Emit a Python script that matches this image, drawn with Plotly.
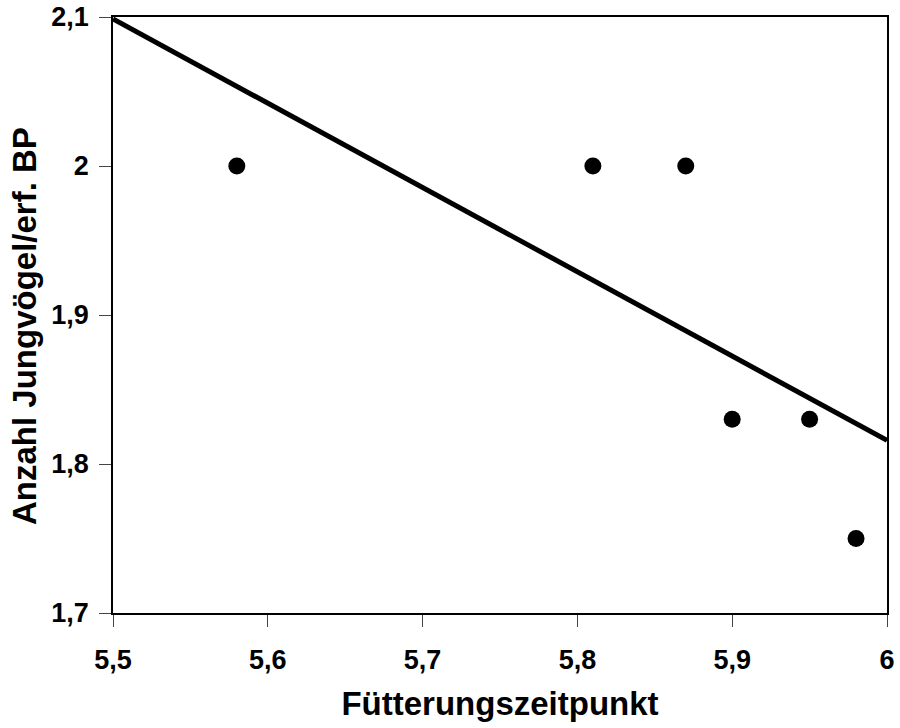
import numpy as np
import plotly.graph_objects as go

fuetterung = [5.58, 5.81, 5.87, 5.90, 5.95, 5.98]
jungvoegel = [2.0, 2.0, 2.0, 1.83, 1.83, 1.75]
x_ticks = [5.5, 5.6, 5.7, 5.8, 5.9, 6.0]
y_ticks = [1.7, 1.8, 1.9, 2.0, 2.1]
x_range = [5.5, 6.0]
y_range = [1.7, 2.1]

slope, intercept = np.polyfit(fuetterung, jungvoegel, 1)
trend_x = np.array(x_range)
trend_y = slope * trend_x + intercept

fig = go.Figure()
fig.add_trace(go.Scatter(x=trend_x, y=trend_y, mode="lines",
                         line=dict(color="black", width=5), showlegend=False))
fig.add_trace(go.Scatter(x=fuetterung, y=jungvoegel, mode="markers",
                         marker=dict(color="black", size=17, symbol="circle"),
                         showlegend=False))

font = "Liberation Sans"
tickfont = dict(size=27, family=font, weight="bold", color="black")
top, bottom, left, right = 17, 115, 113, 13
fig.update_layout(
    width=900, height=728,
    margin=dict(l=left, r=right, t=top, b=bottom, autoexpand=False),
    paper_bgcolor="white", plot_bgcolor="white",
    separators=", ",
    font=dict(family=font, color="black"),
    xaxis=dict(range=x_range, tickmode="array", tickvals=x_ticks,
               showgrid=False, zeroline=False, automargin=False,
               showline=True, linecolor="black", linewidth=1.5, mirror=True,
               ticks="outside", ticklen=12, tickwidth=1, tickcolor="#444",
               ticklabelstandoff=10, ticklabeloverflow="allow",
               tickfont=tickfont,
               title=dict(text="<b>Fütterungszeitpunkt</b>",
                          font=dict(size=33, family=font, color="black"),
                          standoff=18)),
    yaxis=dict(range=y_range, tickmode="array", tickvals=y_ticks,
               showgrid=False, zeroline=False, automargin=False,
               showline=True, linecolor="black", linewidth=1.5, mirror=True,
               ticks="outside", ticklen=12, tickwidth=1, tickcolor="#444",
               ticklabelstandoff=5, ticklabeloverflow="allow",
               tickfont=tickfont),
    annotations=[dict(text="<b>Anzahl Jungvögel/erf. BP</b>", textangle=-90,
                      xref="paper", yref="paper",
                      x=(24 - left) / (900 - left - right),
                      y=(728 - bottom - 326) / (728 - top - bottom),
                      xanchor="center", yanchor="middle", showarrow=False,
                      font=dict(size=33, family=font, color="black"))],
)
fig.write_html("out.html", config={"displayModeBar": False},
               post_script="document.body.style.margin='0';")
